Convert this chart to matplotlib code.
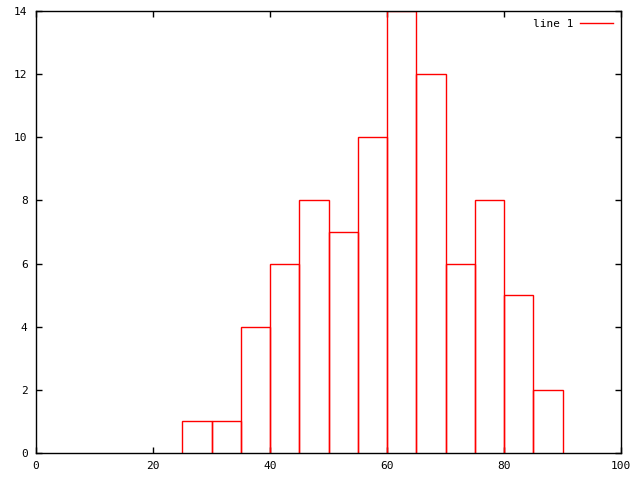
import matplotlib
matplotlib.use("Agg")
import matplotlib.pyplot as plt

bin_left = [25, 30, 35, 40, 45, 50, 55, 60, 65, 70, 75, 80, 85]
counts = [1, 1, 4, 6, 8, 7, 10, 14, 12, 6, 8, 5, 2]
bin_width = 5
xticks = [0, 20, 40, 60, 80, 100]
yticks = [0, 2, 4, 6, 8, 10, 12, 14]

fig = plt.figure(figsize=(6.4, 4.8), dpi=100)
ax = fig.add_axes([36/640, 27/480, 585/640, 442/480])
for i, (x0, h) in enumerate(zip(bin_left, counts)):
    x1 = x0 + bin_width
    ax.plot([x0, x0, x1, x1], [0, h, h, 0], color='#ff0000', linewidth=1.0,
            solid_joinstyle='miter', label='line 1' if i == 0 else None)
ax.set_xlim(0, 100)
ax.set_ylim(0, 14)
ax.set_xticks(xticks)
ax.set_yticks(yticks)
ax.tick_params(direction='in', length=4, width=1, top=True, right=True,
               labelsize=8, pad=6, colors='black')
for lab in ax.get_xticklabels() + ax.get_yticklabels():
    lab.set_family('DejaVu Sans Mono')
for s in ax.spines.values():
    s.set_linewidth(1.0)
    s.set_zorder(5)
leg = ax.legend(loc='upper right', frameon=False,
                markerfirst=False, handlelength=3.0, handletextpad=0.6,
                prop={'family': 'DejaVu Sans Mono', 'size': 8},
                borderaxespad=0.3)
fig.savefig('out.png', dpi=100)
